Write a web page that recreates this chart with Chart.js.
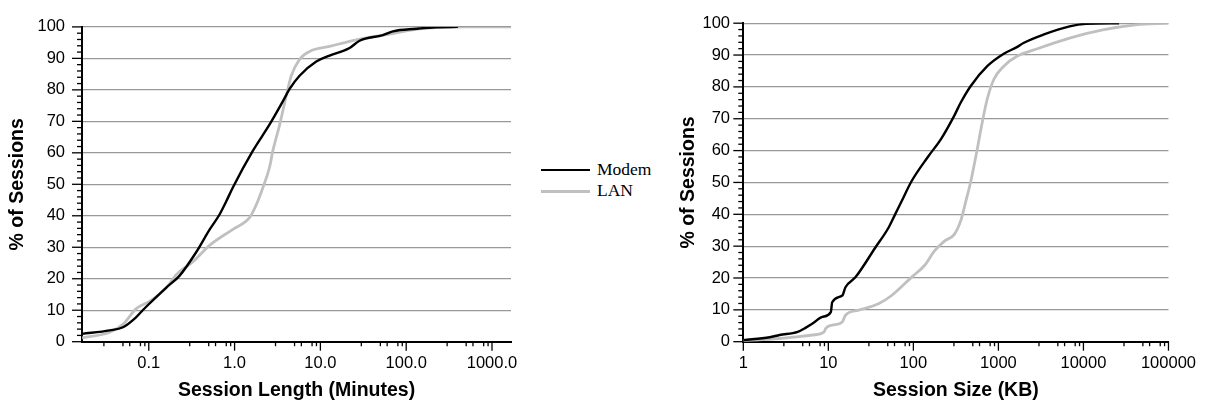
<!DOCTYPE html>
<html>
<head>
<meta charset="utf-8">
<script src="https://cdn.jsdelivr.net/npm/chart.js@4.4.1/dist/chart.umd.min.js"></script>
<style>
html,body{margin:0;padding:0;background:#fff;}
body{width:1208px;height:403px;position:relative;overflow:hidden;}
canvas{position:absolute;top:0;}
#lenChart{left:0;}
#sizeChart{left:670px;}
.lg-line{position:absolute;left:541px;width:49px;}
.lg-text{position:absolute;left:597px;font-family:"Liberation Serif","Times New Roman",serif;font-size:17.5px;line-height:20px;color:#000;}
</style>
</head>
<body>
<canvas id="lenChart" width="530" height="403"></canvas>
<canvas id="sizeChart" width="538" height="403"></canvas>
<div class="lg-line" style="top:168.8px;height:2.5px;background:#000;"></div>
<div class="lg-text" style="top:159px;">Modem</div>
<div class="lg-line" style="top:189.5px;height:3px;background:#c0c0c0;"></div>
<div class="lg-text" style="top:180px;">LAN</div>
<script>
// ---------- Data: Session length (minutes) CDF ----------
const modemLenX = [0.0167, 0.035, 0.05, 0.07, 0.085, 0.1, 0.16, 0.229, 0.358, 0.511, 0.668, 0.8, 0.955, 1.63, 2.56, 3.66, 4.38, 5.72, 8.96, 12.8, 21.9, 28.6, 53.5, 70, 131, 224, 400];
const modemLenY = [2.5, 3.6, 4.6, 7.6, 10.0, 11.9, 17.2, 21.0, 28.5, 35.6, 40.4, 44.6, 49.0, 60.6, 69.0, 76.4, 80.3, 84.5, 89.0, 90.9, 93.3, 95.6, 97.4, 98.6, 99.4, 99.9, 100];
const lanLenX = [0.0167, 0.035, 0.05, 0.0715, 0.102, 0.16, 0.209, 0.327, 0.511, 0.955, 1.5, 1.79, 2.14, 2.56, 2.79, 3.35, 4.01, 4.58, 5.72, 7.48, 12.8, 26.2, 70, 157, 502, 1667];
const lanLenY = [1.2, 3.0, 5.5, 10.5, 12.8, 17.1, 21.3, 25.4, 30.6, 35.7, 39.5, 43.5, 49.0, 55.5, 60.6, 68.9, 78.2, 84.5, 89.7, 92.2, 93.8, 95.9, 97.9, 99.5, 100, 100];

// ---------- Data: Session size (KB) CDF ----------
const modemSizeX = [1, 2.04, 2.67, 4.36, 5.5, 6.52, 8.51, 10.7, 11.1, 14.6, 15.9, 20.8, 35.6, 50.8, 60.8, 72.5, 94.8, 148, 212, 303, 361, 473, 739, 1156, 1650, 1972, 3373, 6870, 10740, 26240];
const modemSizeY = [0.5, 1.4, 2.1, 3.1, 4.5, 5.7, 7.8, 9.3, 12.4, 14.5, 17.1, 20.2, 29.5, 35.7, 39.9, 44.0, 50.3, 58.0, 63.7, 71.0, 75.1, 80.3, 86.5, 90.4, 92.5, 93.8, 96.4, 99.0, 99.8, 100];
const lanSizeX = [1, 2.67, 4.56, 6.52, 8.91, 9.33, 11.1, 14.6, 15.9, 22.7, 38.9, 55.5, 94.8, 136, 177, 232, 303, 361, 413, 473, 565, 646, 739, 885, 1156, 1650, 2818, 6870, 16820, 41000, 100000];
const lanSizeY = [0.3, 1.0, 1.6, 2.1, 3.1, 4.2, 5.2, 6.2, 8.3, 9.9, 11.9, 14.5, 20.2, 24.0, 28.5, 31.6, 33.7, 38.0, 44.0, 50.3, 60.6, 68.9, 76.2, 82.4, 86.5, 89.6, 91.9, 95.3, 97.9, 99.5, 100];

// ---------- Axis ticks ----------
const lenTickValues = [0.1, 1, 10, 100, 1000];
const lenTickLabels = ['0.1', '1.0', '10.0', '100.0', '1000.0'];
const lenMinorDecades = [0.01, 0.1, 1, 10, 100, 1000];
const sizeTickValues = [1, 10, 100, 1000, 10000, 100000];
const sizeTickLabels = ['1', '10', '100', '1000', '10000', '100000'];
const sizeMinorDecades = [1, 10, 100, 1000, 10000];
const minorMultipliers = [3, 5, 6, 8, 9];
const yTickValues = [0, 10, 20, 30, 40, 50, 60, 70, 80, 90, 100];
const yMinorValues = [2, 4, 6, 8, 12, 14, 16, 18, 22, 24, 26, 28, 32, 34, 36, 38, 42, 44, 46, 48, 52, 54, 56, 58, 62, 64, 66, 68, 72, 74, 76, 78, 82, 84, 86, 88, 92, 94, 96, 98];

const seriesNames = ['Modem', 'LAN'];
const FONT = '"Liberation Sans", Arial, Helvetica, sans-serif';

const tickMarks = {
  id: 'tickMarks',
  afterDraw(chart, args, opts) {
    const {ctx, chartArea: a, scales: {x, y}} = chart;
    ctx.save();
    ctx.strokeStyle = '#000';
    ctx.lineWidth = 1.3;
    const seg = (x1, y1, x2, y2) => { ctx.beginPath(); ctx.moveTo(x1, y1); ctx.lineTo(x2, y2); ctx.stroke(); };
    yTickValues.forEach(v => { const p = y.getPixelForValue(v); seg(a.left - 10, p, a.left, p); });
    yMinorValues.forEach(v => { const p = y.getPixelForValue(v); seg(a.left - 5, p, a.left, p); });
    opts.majors.forEach(v => { const p = x.getPixelForValue(v); seg(p, a.bottom, p, a.bottom + 9); });
    opts.decades.forEach(d => minorMultipliers.forEach(m => {
      const v = d * m;
      if (v > x.min && v < x.max) { const p = x.getPixelForValue(v); seg(p, a.bottom, p, a.bottom + 4.5); }
    }));
    ctx.restore();
  }
};

function makeChart(id, cfg) {
  const pts = (xs, ys) => xs.map((v, i) => ({x: v, y: ys[i]}));
  return new Chart(document.getElementById(id), {
    type: 'scatter',
    data: {
      datasets: [
        {label: seriesNames[0], data: pts(cfg.mX, cfg.mY), borderColor: '#000', backgroundColor: '#000', borderWidth: 2.4, showLine: true, pointRadius: 0, fill: false, cubicInterpolationMode: 'monotone', order: 0},
        {label: seriesNames[1], data: pts(cfg.lX, cfg.lY), borderColor: '#c0c0c0', backgroundColor: '#c0c0c0', borderWidth: 2.8, showLine: true, pointRadius: 0, fill: false, cubicInterpolationMode: 'monotone', order: 1}
      ]
    },
    plugins: [tickMarks],
    options: {
      responsive: false,
      animation: false,
      events: [],
      layout: {padding: {top: 20, right: cfg.padRight, left: 0, bottom: 0}},
      plugins: {
        legend: {display: false},
        tooltip: {enabled: false},
        tickMarks: {majors: cfg.tickValues, decades: cfg.decades}
      },
      scales: {
        x: {
          type: 'logarithmic',
          min: cfg.xMin, max: cfg.xMax,
          afterBuildTicks: s => { s.ticks = cfg.tickValues.map(v => ({value: v})); },
          afterFit: s => { s.height = 61.3; },
          ticks: {
            autoSkip: false, maxRotation: 0, padding: 12, color: '#000',
            font: {family: FONT, size: 16.5},
            callback: v => { const i = cfg.tickValues.indexOf(v); return i >= 0 ? cfg.tickLabels[i] : ''; }
          },
          grid: {display: true, drawOnChartArea: false, drawTicks: false},
          border: {display: true, color: '#000', width: 2},
          title: {display: true, text: cfg.xTitle, color: '#000', font: {family: FONT, size: 19.5, weight: 'bold'}, padding: {top: 0, bottom: 0.5}}
        },
        y: {
          type: 'linear', min: 0, max: 100,
          afterBuildTicks: s => { s.ticks = yTickValues.map(v => ({value: v})); },
          afterFit: s => { s.width = cfg.yWidth; },
          ticks: {padding: cfg.yLabelPad, color: '#000', font: {family: FONT, size: 16.5}},
          grid: {color: c => (c.tick && c.tick.value === 0) ? 'rgba(0,0,0,0)' : '#999', lineWidth: 1.2, drawTicks: false},
          border: {display: true, color: '#000', width: 2},
          title: {display: true, text: '% of Sessions', color: '#000', font: {family: FONT, size: 19.5, weight: 'bold'}, padding: {top: cfg.yTitlePad, bottom: 0}}
        }
      }
    }
  });
}

makeChart('lenChart', {
  mX: modemLenX, mY: modemLenY, lX: lanLenX, lY: lanLenY,
  xMin: 1 / 60, xMax: 100000 / 60,
  tickValues: lenTickValues, tickLabels: lenTickLabels, decades: lenMinorDecades,
  xTitle: 'Session Length (Minutes)',
  padRight: 17.3, yWidth: 82, yLabelPad: 17, yTitlePad: 5.8
});

makeChart('sizeChart', {
  mX: modemSizeX, mY: modemSizeY, lX: lanSizeX, lY: lanSizeY,
  xMin: 1, xMax: 100000,
  tickValues: sizeTickValues, tickLabels: sizeTickLabels, decades: sizeMinorDecades,
  xTitle: 'Session Size (KB)',
  padRight: 34.7, yWidth: 73.3, yLabelPad: 13.3, yTitlePad: 7.3
});
</script>
</body>
</html>
